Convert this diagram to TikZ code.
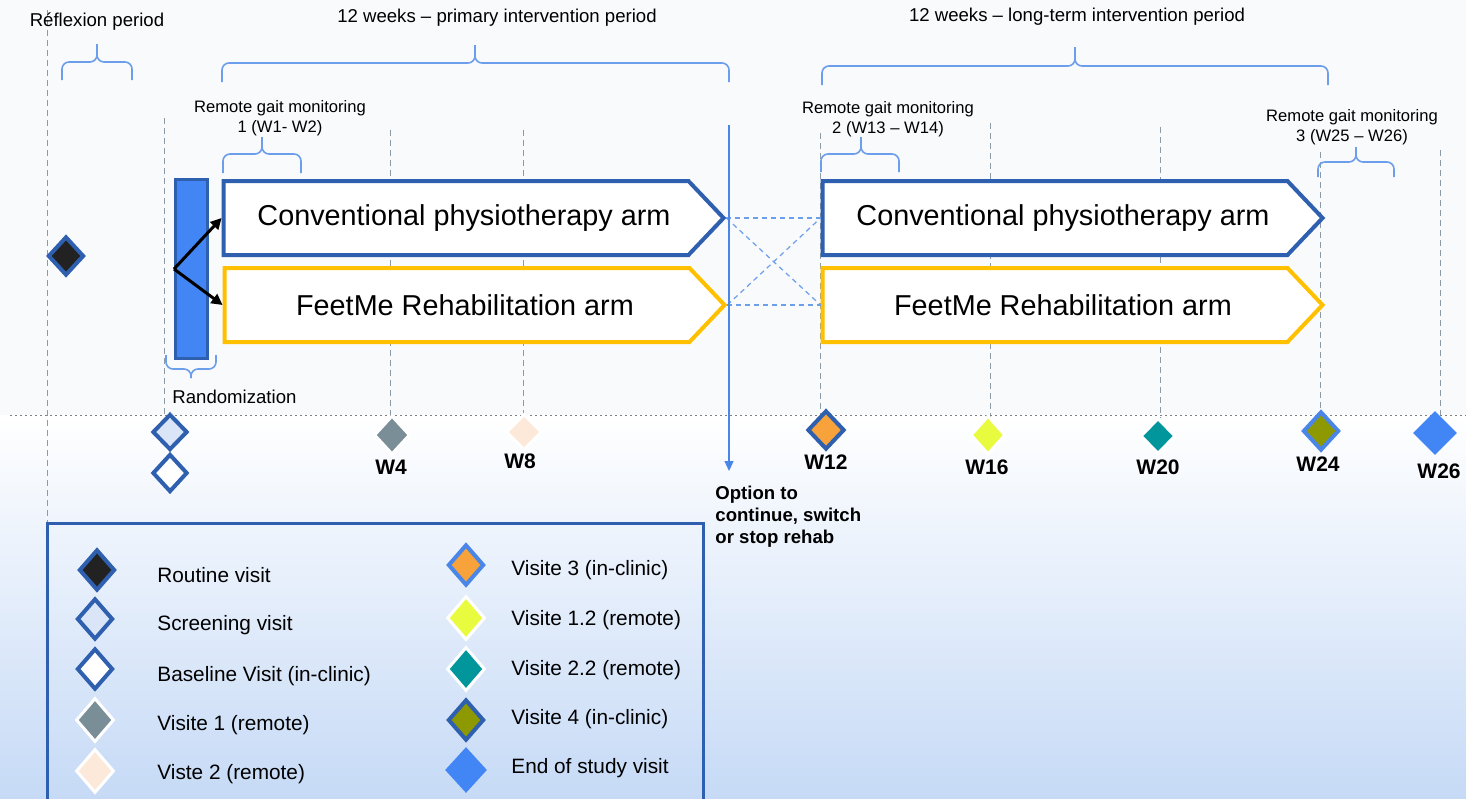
\documentclass[tikz,border=0pt]{standalone}
\usepackage{fontspec}
\setmainfont{Liberation Sans}
\usetikzlibrary{shapes.geometric,shapes.symbols,arrows.meta}

\definecolor{rimblue}{HTML}{2F5FAF}
\definecolor{lightrim}{HTML}{4A86E8}
\definecolor{armgold}{HTML}{FFC000}
\definecolor{braceblue}{HTML}{6D9EEB}
\definecolor{weekgray}{HTML}{8C9BA5}
\definecolor{barblue}{HTML}{4285F4}
\definecolor{routinefill}{HTML}{222222}
\definecolor{screenfill}{HTML}{DAE6F8}
\definecolor{remotegray}{HTML}{7A8E98}
\definecolor{remotepeach}{HTML}{FDE9D9}
\definecolor{clinicorange}{HTML}{F7A23A}
\definecolor{remotelime}{HTML}{E9FB3F}
\definecolor{remoteteal}{HTML}{00969C}
\definecolor{clinicolive}{HTML}{8E9900}
\definecolor{endblue}{HTML}{4285F4}
\definecolor{bgtop}{HTML}{F9FAFC}
\definecolor{bgbottom}{HTML}{C6DAF6}

% brace: left end, right end, tip x, end y, bar y, tip y
\newcommand{\timebrace}[6]{%
  \draw[periodbrace] (#1,#4) -- (#1,#5) -- (#3,#5) -- (#3,#6);
  \draw[periodbrace] (#2,#4) -- (#2,#5) -- (#3,#5) -- (#3,#6);}

\begin{document}
\begin{tikzpicture}[x=0.5pt,y=-0.5pt,
  visit/.style={diamond,inner sep=0pt,minimum width=18pt,minimum height=20.5pt},
  rimvisit/.style={visit,draw=rimblue,line width=2pt},
  softvisit/.style={visit,draw=white,line width=1.5pt},
  arm/.style={signal,signal to=east,signal pointer angle=93,fill=white,line width=2pt,inner sep=0pt,minimum width=250pt,minimum height=37pt,font=\fontsize{14.4}{17}\selectfont,execute at begin node={\hspace*{8pt}}},
  weekline/.style={weekgray,line width=0.5pt,dash pattern=on 3pt off 2pt},
  periodbrace/.style={braceblue,line width=0.8pt,rounded corners=3.5pt},
  swapline/.style={braceblue,line width=0.6pt,dash pattern=on 2.5pt off 2pt},
  toptext/.style={font=\fontsize{9.3}{11}\selectfont},
  gaittext/.style={font=\fontsize{8.3}{10}\selectfont,align=center},
  weektext/.style={font=\fontsize{10.5}{12}\selectfont\bfseries},
  legtext/.style={font=\fontsize{10.4}{12}\selectfont,anchor=west,inner sep=0pt}]
\useasboundingbox (0,0) rectangle (1466,798);
\fill[bgtop] (0,0) rectangle (1466,415);
\shade[top color=white,bottom color=bgbottom] (0,415) rectangle (1466,798);

% week grid
\draw[weekline] (47,10) -- (47,522);
\draw[weekline] (164,118) -- (164,415);
\draw[weekline] (390,130) -- (390,418);
\draw[weekline] (523,130) -- (523,418);
\draw[weekline] (820,133) -- (820,415);
\draw[weekline] (990,123) -- (990,418);
\draw[weekline] (1160,127) -- (1160,418);
\draw[weekline] (1320,152) -- (1320,415);
\draw[weekline] (1440,150) -- (1440,415);
\draw[gray,line width=0.5pt,dash pattern=on 1pt off 1.5pt] (10,415) -- (1466,415);

% periods
\node[toptext] (reflex) at (97,22) {R\'eflexion period};
\node[toptext] (primary) at (497,18) {12 weeks – primary intervention period};
\node[toptext] (longterm) at (1077,17) {12 weeks – long-term intervention period};
\timebrace{62}{132}{97}{80}{62}{44}
\timebrace{222}{729}{475}{82}{63}{45}
\timebrace{822}{1328}{1075}{85}{66}{47}

% remote gait monitoring
\node[gaittext] (gait1) at (280,118) {Remote gait monitoring\\1 (W1- W2)};
\node[gaittext] (gait2) at (888,119) {Remote gait monitoring\\2 (W13 – W14)};
\node[gaittext] (gait3) at (1352,127) {Remote gait monitoring\\3 (W25 – W26)};
\timebrace{223}{301}{262}{173}{154}{137}
\timebrace{821}{899}{861}{172}{154}{137}
\timebrace{1318}{1394}{1356}{177}{162}{147}

% arms
\node[arm,draw=rimblue] (conv1) at (456,218) {Conventional physiotherapy arm};
\node[arm,draw=armgold] (feet1) at (457,305) {FeetMe Rehabilitation arm};
\node[arm,draw=rimblue] (conv2) at (1055,218) {Conventional physiotherapy arm};
\node[arm,draw=armgold] (feet2) at (1055,305) {FeetMe Rehabilitation arm};
\draw[swapline] (conv1.east) -- (conv2.west);
\draw[swapline] (feet1.east) -- (feet2.west);
\draw[swapline] (conv1.east) -- (feet2.west);
\draw[swapline] (feet1.east) -- (conv2.west);

% randomization
\node[draw=rimblue,fill=barblue,line width=1.5pt,minimum width=16pt,minimum height=89.5pt,inner sep=0pt] (rand) at (191.5,269) {};
\draw[black,line width=1.5pt,-{Triangle[length=5.5pt,width=5.5pt]}] (rand.west) -- (conv1.west);
\draw[black,line width=1.5pt,-{Triangle[length=5.5pt,width=5.5pt]}] (rand.west) -- (feet1.west);
\timebrace{216}{166}{191}{355}{369}{378}
\node[toptext,anchor=west,inner sep=0pt] (randlabel) at (172,397) {Randomization};

% option to switch
\coordinate (optstart) at (729,125);
\coordinate (optend) at (729,471);
\draw[lightrim,line width=0.6pt,-{Triangle[length=5pt,width=4.5pt]}] (optstart) -- (optend);
\node[font=\fontsize{9.3}{11}\selectfont\bfseries,align=left,anchor=north west,inner sep=0pt] (option) at (715,486) {Option to\\continue, switch\\or stop rehab};

% visits on the timeline
\node[rimvisit,fill=routinefill,minimum width=18pt,minimum height=19.5pt] (routine) at (66,256) {};
\node[rimvisit,fill=screenfill,minimum width=17.5pt,minimum height=18pt] (screen) at (170,432) {};
\node[rimvisit,fill=white,minimum width=17.5pt,minimum height=19pt] (base) at (170,473) {};
\node[softvisit,fill=remotegray,minimum width=18pt,minimum height=19.5pt] (w4) at (392,435) {};
\node[softvisit,fill=remotepeach,minimum width=18pt,minimum height=18pt] (w8) at (524,432) {};
\node[rimvisit,fill=clinicorange,minimum width=18.5pt,minimum height=19.5pt] (w12) at (826,430) {};
\node[softvisit,fill=remotelime,minimum width=17.5pt,minimum height=19.5pt] (w16) at (988,435) {};
\node[softvisit,fill=remoteteal,minimum width=17.5pt,minimum height=18pt] (w20) at (1158,436) {};
\node[rimvisit,draw=lightrim,fill=clinicolive,minimum width=18pt,minimum height=19.5pt] (w24) at (1321,431) {};
\node[visit,fill=endblue,minimum width=22pt,minimum height=22pt] (w26) at (1435,433) {};
\node[weektext] (w4label) at (391,467) {W4};
\node[weektext] (w8label) at (520,461) {W8};
\node[weektext] (w12label) at (826,462) {W12};
\node[weektext] (w16label) at (987,467) {W16};
\node[weektext] (w20label) at (1158,467) {W20};
\node[weektext] (w24label) at (1318,464) {W24};
\node[weektext] (w26label) at (1439,471) {W26};

% legend
\draw[rimblue,line width=1.5pt] (47,523) rectangle (703,812);
\node[rimvisit,fill=routinefill] (legroutine) at (97,570) {};
\node[rimvisit,fill=screenfill] (legscreen) at (95,619) {};
\node[rimvisit,fill=white] (legbase) at (95,669) {};
\node[softvisit,fill=remotegray,minimum width=19pt,minimum height=22pt] (legv1) at (95,720) {};
\node[softvisit,fill=remotepeach,minimum width=19pt,minimum height=22pt] (legv2) at (95,771) {};
\node[legtext] (txroutine) at (157,575) {Routine visit};
\node[legtext] (txscreen) at (157,625) {Screening visit};
\node[legtext] (txbase) at (157,676) {Baseline Visit (in-clinic)};
\node[legtext] (txv1) at (157,725) {Visite 1 (remote)};
\node[legtext] (txv2) at (157,774) {Viste 2 (remote)};
\node[rimvisit,draw=lightrim,fill=clinicorange] (legv3) at (466,565) {};
\node[softvisit,fill=remotelime,minimum width=19pt,minimum height=22pt] (legv12) at (466,618) {};
\node[softvisit,fill=remoteteal,minimum width=19pt,minimum height=22pt] (legv22) at (466,669) {};
\node[rimvisit,fill=clinicolive] (legv4) at (466,720) {};
\node[visit,fill=endblue,minimum width=21pt,minimum height=23pt] (legend) at (466,770) {};
\node[legtext] (txv3) at (511,570) {Visite 3 (in-clinic)};
\node[legtext] (txv12) at (511,620) {Visite 1.2 (remote)};
\node[legtext] (txv22) at (511,670) {Visite 2.2 (remote)};
\node[legtext] (txv4) at (511,719) {Visite 4 (in-clinic)};
\node[legtext] (txend) at (511,768) {End of study visit};
\end{tikzpicture}
\end{document}
